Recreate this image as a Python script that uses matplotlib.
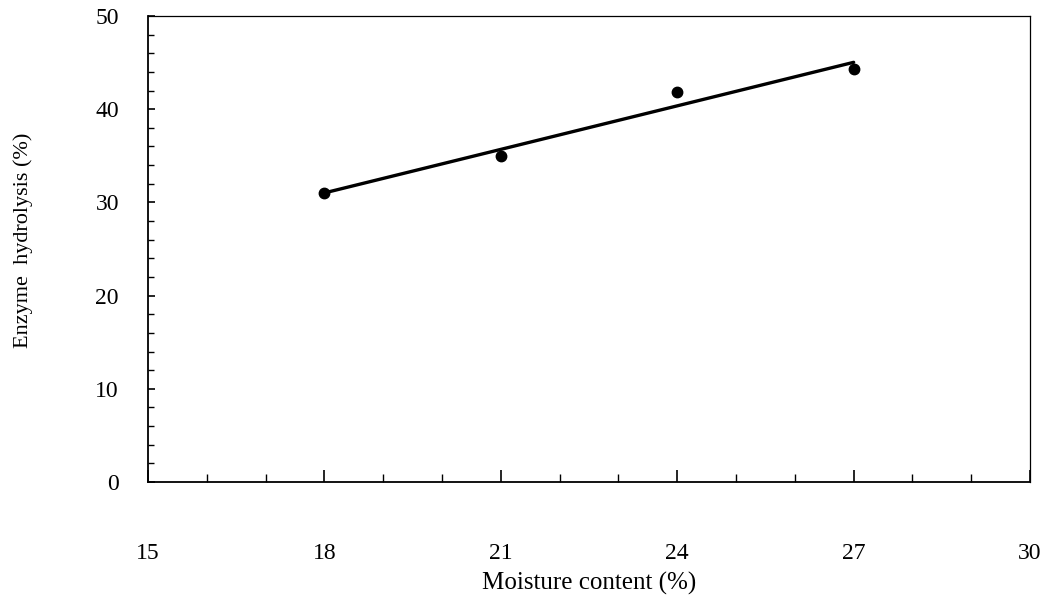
import matplotlib
matplotlib.use('Agg')
import matplotlib.pyplot as plt
from matplotlib.ticker import MultipleLocator

import numpy as np

# Moisture content vs. enzyme hydrolysis
moisture = [18, 21, 24, 27]
hydrolysis = [31.0, 35.0, 41.8, 44.3]

plt.rcParams['font.family'] = ['Liberation Serif', 'DejaVu Serif']

fig = plt.figure(figsize=(10.5, 6.06), dpi=100)
ax = fig.add_axes([0.141, 0.2046, 0.840, 0.769])

# Linear fit through the points
slope, intercept = np.polyfit(moisture, hydrolysis, 1)
xfit = np.array([moisture[0], moisture[-1]])
ax.plot(xfit, slope * xfit + intercept, color='black', lw=2.4, solid_capstyle='round')
ax.plot(moisture, hydrolysis, 'o', color='black', markersize=7.5)

ax.set_xlim(15, 30)
ax.set_ylim(0, 50)
ax.xaxis.set_major_locator(MultipleLocator(3))
ax.xaxis.set_minor_locator(MultipleLocator(1))
ax.yaxis.set_major_locator(MultipleLocator(10))
ax.yaxis.set_minor_locator(MultipleLocator(2))

ax.tick_params(axis='x', which='major', direction='in', length=9, width=1.2, pad=44, labelsize=17)
ax.tick_params(axis='x', which='minor', direction='in', length=6, width=1.0)
ax.tick_params(axis='y', which='major', direction='in', length=5, width=1.2, pad=21, labelsize=17)
ax.tick_params(axis='y', which='minor', direction='in', length=4, width=1.0)

for side in ['left', 'bottom']:
    ax.spines[side].set_linewidth(1.3)
for side in ['top', 'right']:
    ax.spines[side].set_linewidth(0.9)

ax.set_xlabel('Moisture content (%)', fontsize=18)
ax.set_ylabel('Enzyme  hydrolysis (%)', fontsize=16)
ax.xaxis.set_label_coords(0.5, -0.192)
ax.yaxis.set_label_coords(-0.130, 0.519)

fig.savefig('out.png', dpi=100)
